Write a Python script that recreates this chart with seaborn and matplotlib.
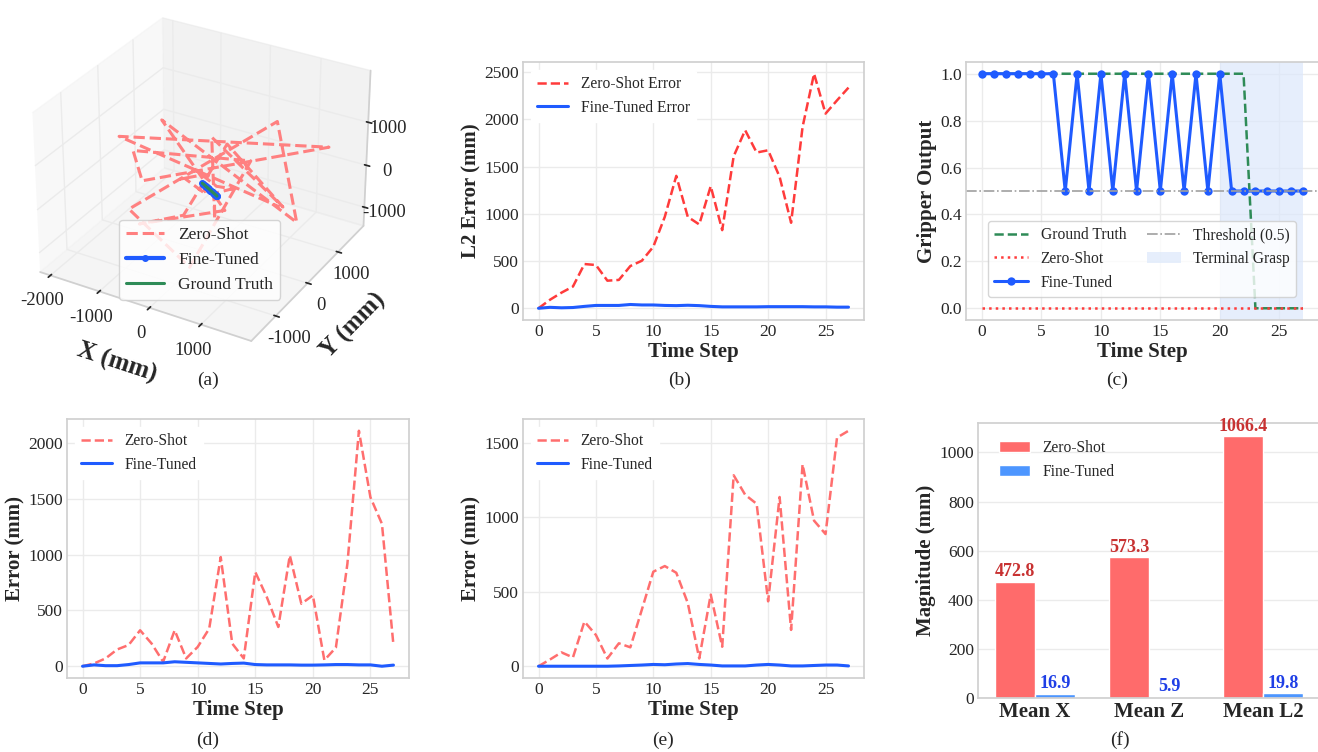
import numpy as np
import pandas as pd
import seaborn as sns
import matplotlib.pyplot as plt
from matplotlib.ticker import MultipleLocator

# ====================================================
# DATA
# ====================================================

steps = list(range(28))

# (a) 3D trajectories (mm)
gt_x = [-200, -185, -170, -155, -140, -125, -110, -95, -80, -65, -50, -35, -20, -5,
        10, 25, 40, 55, 70, 85, 100, 115, 130, 145, 160, 175, 190, 200]
gt_y = [100, 95, 90, 84, 78, 72, 66, 60, 54, 48, 42, 36, 30, 24,
        18, 12, 6, 0, -6, -12, -18, -24, -30, -36, -42, -48, -54, -60]
gt_z = [50, 48, 46, 44, 42, 40, 38, 36, 34, 32, 30, 28, 26, 24,
        22, 20, 18, 16, 14, 12, 10, 8, 6, 4, 2, 0, -2, -4]

ft_x = [-200, -175, -168, -150, -125, -100, -85, -70, -50, -40, -25, -15, -5, 10,
        30, 40, 52, 66, 80, 96, 110, 126, 142, 158, 172, 186, 190, 208]
ft_y = [100, 90, 88, 80, 70, 60, 55, 50, 42, 38, 30, 26, 22, 14,
        10, 6, 0, -6, -12, -18, -24, -30, -36, -42, -48, -54, -54, -64]
ft_z = [50, 48, 46, 44, 40, 36, 34, 32, 30, 26, 18, 18, 10, 6,
        10, 12, 16, 14, 12, 6, 0, 0, 4, 2, -2, -6, -8, -2]

zs_x = [-200, -160, -100, -5, -330, -447, -313, -55, 242, -135, 123, -372, 958, -208,
        80, -819, 660, -297, 1063, 645, -535, 169, 297, -773, -1950, 1689, -1086, 388]
zs_y = [100, 21, -27, -80, -227, -177, 269, 314, 337, 370, -8, 645, 812, 870,
        -864, -840, -525, -905, 1106, 1089, -1502, -824, 825, -1036, 825, 1030, -977, 1647]
zs_z = [50, 93, 139, -15, 342, 250, 90, -118, -93, -348, -605, 701, -602, 449,
        74, -461, 149, 2100, -1138, 1103, 446, -1129, 250, 1360, -976, 888, 1534, -1380]

# (b) L2 error (mm)
zs_l2 = [0, 90, 165, 230, 468, 458, 292, 300, 447, 503, 651, 968, 1401, 968,
         887, 1292, 827, 1609, 1884, 1648, 1672, 1391, 905, 1919, 2482, 2060, 2200, 2335]
ft_l2 = [0, 10, 5, 8, 20, 30, 30, 30, 40, 35, 35, 30, 28, 32,
         28, 20, 15, 15, 15, 15, 17, 17, 17, 17, 15, 15, 12, 12]

# (c) gripper output
grip_gt = [1.0] * 23 + [0.0] * 5
grip_zs = [0.0] * 28
grip_ft = [1.0, 1.0, 1.0, 1.0, 1.0, 1.0, 1.0, 0.5, 1.0, 0.5, 1.0, 0.5, 1.0, 0.5,
           1.0, 0.5, 1.0, 0.5, 1.0, 0.5, 1.0, 0.5, 0.5, 0.5, 0.5, 0.5, 0.5, 0.5]
grip_threshold = 0.5
grasp_start, grasp_end = 20, 27

# (d) X error (mm)
zs_ex = [0, 25, 70, 150, 190, 322, 203, 40, 322, 70, 173, 337, 978, 203,
         70, 844, 620, 352, 993, 560, 635, 54, 167, 918, 2110, 1514, 1276, 188]
ft_ex = [0, 12, 5, 5, 15, 30, 30, 30, 40, 35, 30, 25, 20, 25,
         28, 15, 12, 12, 12, 10, 10, 12, 15, 15, 12, 12, 0, 10]

# (e) Z error (mm)
zs_ez = [0, 45, 93, 59, 300, 210, 52, 154, 127, 380, 635, 673, 628, 425,
         52, 481, 131, 1283, 1152, 1091, 436, 1137, 244, 1356, 978, 888, 1536, 1582]
ft_ez = [0, 0, 0, 0, 0, 0, 0, 2, 5, 8, 12, 10, 15, 18,
         12, 8, 2, 2, 2, 8, 12, 8, 2, 2, 5, 8, 8, 2]

# (f) summary
metrics = ["Mean X", "Mean Z", "Mean L2"]
zs_mean = [472.8, 573.3, 1066.4]
ft_mean = [16.9, 5.9, 19.8]

# ====================================================
# STYLE
# ====================================================

sns.set_theme(style="whitegrid")
plt.rcParams["font.family"] = ["Liberation Serif", "DejaVu Serif"]
plt.rcParams["axes.edgecolor"] = "#d0d0d0"
plt.rcParams["grid.color"] = "#ebebeb"
plt.rcParams["axes.unicode_minus"] = False

RED = "#ff3b3b"
LIGHT_RED = "#ff6e6e"
BLUE = "#1f5bff"
GREEN = "#2e8b57"
LEG = 11.2

fig = plt.figure(figsize=(13.18, 7.52), dpi=100)


def px_axes(left, top, right, bottom):
    W, H = 1318, 752
    return fig.add_axes([left / W, (H - bottom) / H, (right - left) / W, (bottom - top) / H])


def style_2d(ax, ylabel):
    ax.set_xlabel("Time Step", fontsize=15, fontweight="bold", labelpad=1)
    ax.set_ylabel(ylabel, fontsize=15, fontweight="bold", labelpad=2)
    ax.tick_params(labelsize=12.5, pad=3, length=0)
    ax.set_xticks([0, 5, 10, 15, 20, 25])


# ====================================================
# (a) 3D TRAJECTORY
# ====================================================

ax3 = fig.add_axes([-0.025, 0.515, 0.353, 0.50], projection="3d")
ax3.plot(zs_x, zs_y, zs_z, color="#ff8080", linestyle="--", linewidth=2.2, label="Zero-Shot")
ax3.plot(ft_x, ft_y, ft_z, color=BLUE, linewidth=3, marker="o", markersize=4, label="Fine-Tuned")
ax3.plot(gt_x, gt_y, gt_z, color=GREEN, linewidth=2.2, label="Ground Truth")
ax3.set_xlabel("X (mm)", fontsize=18, fontweight="bold", labelpad=8)
ax3.set_ylabel("Y (mm)", fontsize=18, fontweight="bold", labelpad=8)
ax3.tick_params(labelsize=13.5, pad=1)
ax3.set_xticks([-2000, -1000, 0, 1000])
ax3.set_yticks([-1000, 0, 1000])
ax3.set_zticks([-1000, 0, 1000])
ax3.legend(loc="lower center", bbox_to_anchor=(0.5, 0.15), fontsize=12.5,
           frameon=True, edgecolor="#cccccc", handlelength=2.2)

# ====================================================
# (b) L2 ERROR
# ====================================================

axb = px_axes(523, 62, 864, 320)
sns.lineplot(x=steps, y=zs_l2, ax=axb, color=RED, linestyle="--", linewidth=1.8,
             label="Zero-Shot Error")
sns.lineplot(x=steps, y=ft_l2, ax=axb, color=BLUE, linewidth=2.2, label="Fine-Tuned Error")
style_2d(axb, "L2 Error (mm)")
axb.legend(loc="upper left", fontsize=LEG, frameon=True, edgecolor="white", framealpha=1)

# ====================================================
# (c) GRIPPER OUTPUT
# ====================================================

axc = px_axes(966, 62, 1319, 320)
axc.axvspan(grasp_start, grasp_end, color="#dce8fb", alpha=0.7, label="Terminal Grasp", lw=0)
sns.lineplot(x=steps, y=grip_gt, ax=axc, color=GREEN, linestyle="--", linewidth=1.8,
             label="Ground Truth")
sns.lineplot(x=steps, y=grip_zs, ax=axc, color=RED, linestyle=":", linewidth=1.8,
             label="Zero-Shot")
sns.lineplot(x=steps, y=grip_ft, ax=axc, color=BLUE, linewidth=2.2, marker="o",
             markersize=6, markeredgewidth=0, label="Fine-Tuned")
axc.axhline(grip_threshold, color="#a0a0a0", linestyle="-.", linewidth=1.2,
            label="Threshold (0.5)")
axc.set_xlabel("Time Step", fontsize=15, fontweight="bold", labelpad=1)
axc.set_ylabel("Gripper Output", fontsize=15, fontweight="bold", labelpad=2)
axc.tick_params(labelsize=12.5, pad=3, length=0)
axc.set_xticks([0, 5, 10, 15, 20, 25])
h, l = axc.get_legend_handles_labels()
order = ["Ground Truth", "Zero-Shot", "Fine-Tuned", "Threshold (0.5)", "Terminal Grasp"]
hd = dict(zip(l, h))
axc.legend([hd[k] for k in order], order, ncol=2, loc="lower left",
           bbox_to_anchor=(0.04, 0.06), fontsize=LEG, frameon=True,
           edgecolor="#cccccc", framealpha=0.8, handlelength=2.2, columnspacing=1.3)

# ====================================================
# (d) X ERROR
# ====================================================

axd = px_axes(67, 419, 409, 678)
sns.lineplot(x=steps, y=zs_ex, ax=axd, color=LIGHT_RED, linestyle="--", linewidth=1.8,
             label="Zero-Shot")
sns.lineplot(x=steps, y=ft_ex, ax=axd, color=BLUE, linewidth=2.2, label="Fine-Tuned")
style_2d(axd, "Error (mm)")
axd.yaxis.set_major_locator(MultipleLocator(500))
axd.legend(loc="upper left", fontsize=LEG, frameon=True, edgecolor="white", framealpha=1)

# ====================================================
# (e) Z ERROR
# ====================================================

axe = px_axes(523, 419, 864, 678)
sns.lineplot(x=steps, y=zs_ez, ax=axe, color=LIGHT_RED, linestyle="--", linewidth=1.8,
             label="Zero-Shot")
sns.lineplot(x=steps, y=ft_ez, ax=axe, color=BLUE, linewidth=2.2, label="Fine-Tuned")
style_2d(axe, "Error (mm)")
axe.yaxis.set_major_locator(MultipleLocator(500))
axe.legend(loc="upper left", fontsize=LEG, frameon=True, edgecolor="white", framealpha=1)

# ====================================================
# (f) SUMMARY BARS
# ====================================================

axf = px_axes(978, 423, 1320, 698)
df = pd.DataFrame({
    "Metric": metrics * 2,
    "Value": zs_mean + ft_mean,
    "Model": ["Zero-Shot"] * 3 + ["Fine-Tuned"] * 3,
})
sns.barplot(data=df, x="Metric", y="Value", hue="Model", ax=axf, width=0.7,
            palette={"Zero-Shot": "#ff6b6b", "Fine-Tuned": "#4d96ff"}, saturation=1)
label_colors = ["#c83232", "#1f3fe6"]
for cont, col in zip(axf.containers, label_colors):
    axf.bar_label(cont, fmt="%.1f", color=col, fontsize=13, fontweight="bold", padding=1)
axf.set_xlabel("")
axf.set_ylabel("Magnitude (mm)", fontsize=15, fontweight="bold", labelpad=2)
axf.tick_params(labelsize=12.5, pad=3, length=0)
for t in axf.get_xticklabels():
    t.set_fontweight("bold")
    t.set_fontsize(15)
axf.legend(loc="upper left", fontsize=LEG, frameon=False, bbox_to_anchor=(0.02, 0.99))

# ====================================================
# CAPTIONS
# ====================================================

for label, x, y in [("(a)", 208, 380), ("(b)", 680, 380), ("(c)", 1117, 380),
                    ("(d)", 208, 740), ("(e)", 663, 740), ("(f)", 1120, 740)]:
    fig.text(x / 1318, 1 - y / 752, label, ha="center", va="center", fontsize=14)

fig.savefig("out.png", dpi=100)
